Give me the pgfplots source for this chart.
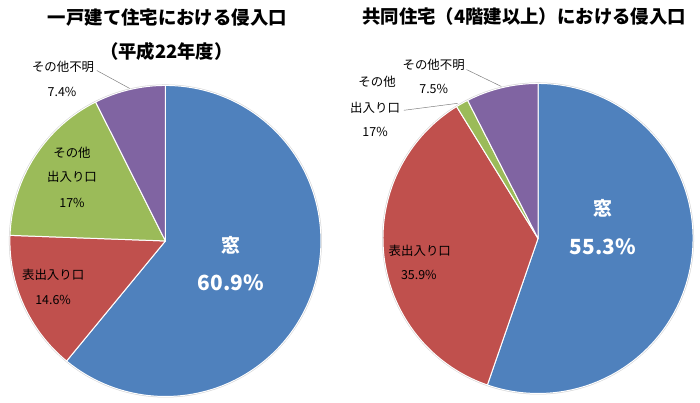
\documentclass[border=0pt]{standalone}
\usepackage{fontspec}
\setmainfont{Noto Sans CJK JP}
\usepackage{pgfplots}
\usepackage{pgfplotstable}
\pgfplotsset{compat=1.18}

\definecolor{pieblue}{HTML}{4F81BD}
\definecolor{piered}{HTML}{C0504D}
\definecolor{piegreen}{HTML}{9BBB59}
\definecolor{pieviolet}{HTML}{8064A2}

% shares in percent, clockwise from 12 o'clock
\pgfplotstableread{
part    value color
window  60.9  pieblue
front   14.6  piered
other   17.0  piegreen
unknown 7.4   pieviolet
}\housedata

\pgfplotstableread{
part    value color
window  55.3  pieblue
front   35.9  piered
other   1.3   piegreen
unknown 7.5   pieviolet
}\flatdata

% builds #2 = list of start/end/colour for the slices of table #1
\newcommand\makepie[2]{%
  \pgfplotstablegetrowsof{#1}%
  \pgfmathtruncatemacro\pielast{\pgfplotsretval-1}%
  \gdef\piesum{0}%
  \foreach \k in {0,...,\pielast}{%
    \pgfplotstablegetelem{\k}{value}\of{#1}%
    \pgfmathsetmacro\tmp{\piesum+\pgfplotsretval}%
    \xdef\piesum{\tmp}}%
  \gdef\piestart{90}%
  \gdef#2{}%
  \foreach \k in {0,...,\pielast}{%
    \pgfplotstablegetelem{\k}{value}\of{#1}%
    \pgfmathsetmacro\pieend{\piestart-\pgfplotsretval/\piesum*360}%
    \pgfplotstablegetelem{\k}{color}\of{#1}%
    \ifx#2\empty
      \xdef#2{\piestart/\pieend/\pgfplotsretval}%
    \else
      \xdef#2{#2,\piestart/\pieend/\pgfplotsretval}%
    \fi
    \xdef\piestart{\pieend}}%
}

% #1 slice list, #2 #3 centre (axis units), #4 radius
\newcommand\drawpie[4]{%
  \fill[gray!35] (axis cs:#2,#3) circle[radius=#4pt+1pt];
  \foreach \sa/\sb/\sc in #1{%
    \filldraw[fill=\sc, draw=white, line width=1pt, line join=round]
      (axis cs:#2,#3) -- ++(\sa:#4pt)
      arc[start angle=\sa, end angle=\sb, radius=#4pt] -- cycle;}%
}

\begin{document}
\makepie{\housedata}{\houseslices}
\makepie{\flatdata}{\flatslices}
\begin{tikzpicture}
\begin{axis}[
    x=1pt, y=1pt,
    xmin=0, xmax=700, ymin=0, ymax=405,
    hide axis,
    clip=false,
]
\pgfplotsextra{
  \pgfkeys{/pgf/fpu=false}
  \drawpie{\houseslices}{162}{162.5}{156.5}
  \drawpie{\flatslices}{537}{165}{156}
}
\coordinate (sw) at (axis cs:0,0);
\coordinate (ne) at (axis cs:700,405);

% titles
\node[font=\fontsize{18.5}{20}\selectfont\bfseries] at (axis cs:164,387) {一戸建て住宅における侵入口};
\node[font=\fontsize{18.5}{20}\selectfont\bfseries] at (axis cs:163,353) {（平成22年度）};
\node[font=\fontsize{18.5}{20}\selectfont\bfseries] at (axis cs:523,388) {共同住宅（4階建以上）における侵入口};

% left labels
\draw[gray, line width=0.5pt] (axis cs:93,334) -- (axis cs:126,316);
\begin{scope}[every node/.style={font=\fontsize{12.5}{14}\selectfont}]
\node at (axis cs:59,338) {その他不明};
\node at (axis cs:58,312) {7.4\%};
\node at (axis cs:68,251) {その他};
\node at (axis cs:68,227) {出入り口};
\node at (axis cs:68,201) {17\%};
\node at (axis cs:49,128) {表出入り口};
\node at (axis cs:49,103) {14.6\%};
\end{scope}
\node[white, font=\fontsize{19}{20}\selectfont\bfseries] at (axis cs:228,158) {窓};
\node[white, font=\fontsize{21}{22}\selectfont\bfseries] at (axis cs:228,120) {60.9\%};

% right labels
\draw[gray, line width=0.5pt] (axis cs:465,335) -- (axis cs:500,318);
\draw[gray, line width=0.5pt] (axis cs:402,294) -- (axis cs:456,301);
\begin{scope}[every node/.style={font=\fontsize{12.5}{14}\selectfont}]
\node at (axis cs:432,340) {その他不明};
\node at (axis cs:432,315) {7.5\%};
\node at (axis cs:375,323) {その他};
\node at (axis cs:373,297) {出入り口};
\node at (axis cs:373,272) {17\%};
\node at (axis cs:418,153) {表出入り口};
\node at (axis cs:417,128) {35.9\%};
\end{scope}
\node[white, font=\fontsize{19}{20}\selectfont\bfseries] at (axis cs:602,195) {窓};
\node[white, font=\fontsize{21}{22}\selectfont\bfseries] at (axis cs:602,157) {55.3\%};
\end{axis}
\pgfresetboundingbox
\path (sw) rectangle (ne);
\end{tikzpicture}
\end{document}
